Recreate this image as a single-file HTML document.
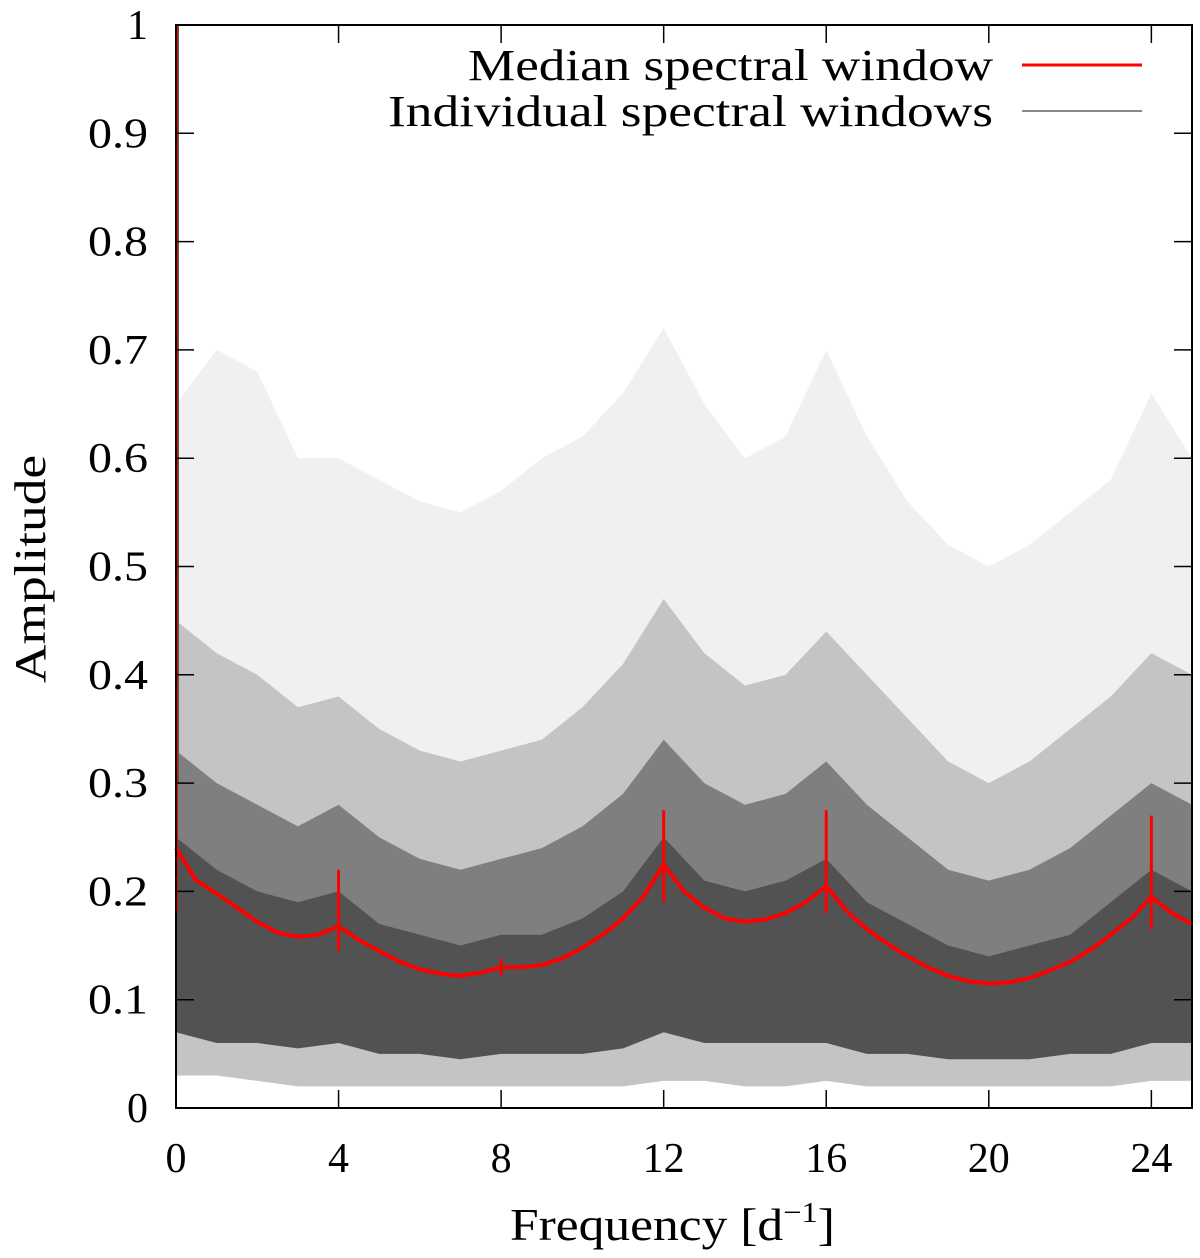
<!DOCTYPE html>
<html><head><meta charset="utf-8"><style>
body{margin:0;background:#fff}
svg{display:block;font-family:"Liberation Serif",serif}
</style></head><body>
<svg id="chart" width="1200" height="1258" viewBox="0 0 1200 1258" xmlns="http://www.w3.org/2000/svg">
<g id="plot"></g>
</svg>
<script>
const freqs=[0,0.5,1,1.5,2,2.5,3,3.5,4,4.5,5,5.5,6,6.5,7,7.5,8,8.5,9,9.5,10,10.5,11,11.5,12,12.5,13,13.5,14,14.5,15,15.5,16,16.5,17,17.5,18,18.5,19,19.5,20,20.5,21,21.5,22,22.5,23,23.5,24,24.5,25];
const median=[0.24,0.21,0.198,0.185,0.172,0.162,0.158,0.16,0.168,0.155,0.145,0.135,0.128,0.124,0.122,0.125,0.13,0.13,0.132,0.138,0.148,0.16,0.175,0.195,0.225,0.2,0.185,0.175,0.172,0.174,0.18,0.19,0.205,0.182,0.165,0.152,0.14,0.13,0.122,0.117,0.115,0.116,0.12,0.127,0.135,0.146,0.16,0.175,0.195,0.18,0.17];
const qf=[0,1,2,3,4,5,6,7,8,9,10,11,12,13,14,15,16,17,18,19,20,21,22,23,24,25];
const q02=[0.03,0.03,0.025,0.02,0.02,0.02,0.02,0.02,0.02,0.02,0.02,0.02,0.025,0.025,0.02,0.02,0.025,0.02,0.02,0.02,0.02,0.02,0.02,0.02,0.025,0.025];
const q10=[0.07,0.06,0.06,0.055,0.06,0.05,0.05,0.045,0.05,0.05,0.05,0.055,0.07,0.06,0.06,0.06,0.06,0.05,0.05,0.045,0.045,0.045,0.05,0.05,0.06,0.06];
const q50=[0.25,0.22,0.2,0.19,0.2,0.17,0.16,0.15,0.16,0.16,0.175,0.2,0.25,0.21,0.2,0.21,0.23,0.19,0.17,0.15,0.14,0.15,0.16,0.19,0.22,0.2];
const q75=[0.33,0.3,0.28,0.26,0.28,0.25,0.23,0.22,0.23,0.24,0.26,0.29,0.34,0.3,0.28,0.29,0.32,0.28,0.25,0.22,0.21,0.22,0.24,0.27,0.3,0.28];
const q90=[0.45,0.42,0.4,0.37,0.38,0.35,0.33,0.32,0.33,0.34,0.37,0.41,0.47,0.42,0.39,0.4,0.44,0.4,0.36,0.32,0.3,0.32,0.35,0.38,0.42,0.4];
const q99=[0.65,0.7,0.68,0.6,0.6,0.58,0.56,0.55,0.57,0.6,0.62,0.66,0.72,0.65,0.6,0.62,0.7,0.62,0.56,0.52,0.5,0.52,0.55,0.58,0.66,0.6];
const spikeF=[0,4,8,12,16,24];
const spikeTop=[1.0,0.22,0.138,0.275,0.275,0.27];
const spikeBot=[0.18,0.145,0.122,0.19,0.18,0.165];
const xTicks=[0,4,8,12,16,20,24];
const yTicks=[0,0.1,0.2,0.3,0.4,0.5,0.6,0.7,0.8,0.9,1];
const X0=176,X1=1192,Y0=1108,Y1=25;
const xs=f=>X0+(f/25)*(X1-X0);
const ys=a=>Y0-a*(Y0-Y1);
const NS="http://www.w3.org/2000/svg";
const g=document.getElementById('plot');
function mk(t,a){const e=document.createElementNS(NS,t);for(const k in a)e.setAttribute(k,a[k]);g.appendChild(e);return e;}
function band(lo,hi){let p=qf.map((f,i)=>xs(f)+','+ys(hi[i]));for(let i=qf.length-1;i>=0;i--)p.push(xs(qf[i])+','+ys(lo[i]));return p.join(' ');}
const layers=[[q02,q99,0.06],[q02,q90,0.18],[q10,q75,0.35],[q10,q50,0.35]];
layers.forEach(L=>{const e=mk('polygon',{points:band(L[0],L[1]),fill:'#000','fill-opacity':L[2]});

});
let e=mk('line',{x1:X0+1.5,x2:X0+1.5,y1:ys(1),y2:ys(0.3),stroke:'#555','stroke-width':3});


e=mk('polyline',{points:freqs.map((f,i)=>xs(f)+','+ys(median[i])).join(' '),fill:'none',stroke:'#f00','stroke-width':4,'stroke-linejoin':'round'});


spikeF.forEach((f,i)=>{const s=mk('line',{x1:xs(f)+(i==0?1:0),x2:xs(f)+(i==0?1:0),y1:ys(spikeTop[i]),y2:ys(spikeBot[i]),stroke:'#f00','stroke-width':i==0?2:3});

});
e=mk('rect',{x:X0,y:Y1,width:X1-X0,height:Y0-Y1,fill:'none',stroke:'#000','stroke-width':2});


yTicks.forEach(v=>{mk('line',{x1:X0,x2:X0+18,y1:ys(v),y2:ys(v),stroke:'#000','stroke-width':1.5});mk('line',{x1:X1,x2:X1-18,y1:ys(v),y2:ys(v),stroke:'#000','stroke-width':1.5});
const s=String(v);const a={x:X0-28,y:ys(v)+14,'text-anchor':'end','font-size':42};if(s.length>1){a.textLength=60;a.lengthAdjust='spacingAndGlyphs';}
const t=mk('text',a);t.textContent=s;

});
xTicks.forEach(v=>{mk('line',{x1:xs(v),x2:xs(v),y1:Y0,y2:Y0-18,stroke:'#000','stroke-width':1.5});mk('line',{x1:xs(v),x2:xs(v),y1:Y1,y2:Y1+18,stroke:'#000','stroke-width':1.5});
const t=mk('text',{x:xs(v),y:1172,'text-anchor':'middle','font-size':42});t.textContent=String(v);

});
let t=mk('text',{x:510,y:1240,'font-size':46,transform:'translate(510 0) scale(1.12 1) translate(-510 0)'});t.innerHTML='Frequency [d<tspan dy="-18" font-size="29">−1</tspan><tspan dy="18">]</tspan>';


t=mk('text',{x:45,y:569,'text-anchor':'middle','font-size':44,textLength:228,lengthAdjust:'spacingAndGlyphs',transform:'rotate(-90 45 569)'});t.textContent='Amplitude';


t=mk('text',{x:468,y:80,'font-size':44,textLength:525,lengthAdjust:'spacingAndGlyphs'});t.textContent='Median spectral window';


e=mk('line',{x1:1022,x2:1142,y1:65,y2:65,stroke:'#f00','stroke-width':3});


t=mk('text',{x:388,y:126,'font-size':44,textLength:605,lengthAdjust:'spacingAndGlyphs'});t.textContent='Individual spectral windows';


e=mk('line',{x1:1022,x2:1142,y1:111,y2:111,stroke:'#888','stroke-width':2});


</script>
</body></html>
